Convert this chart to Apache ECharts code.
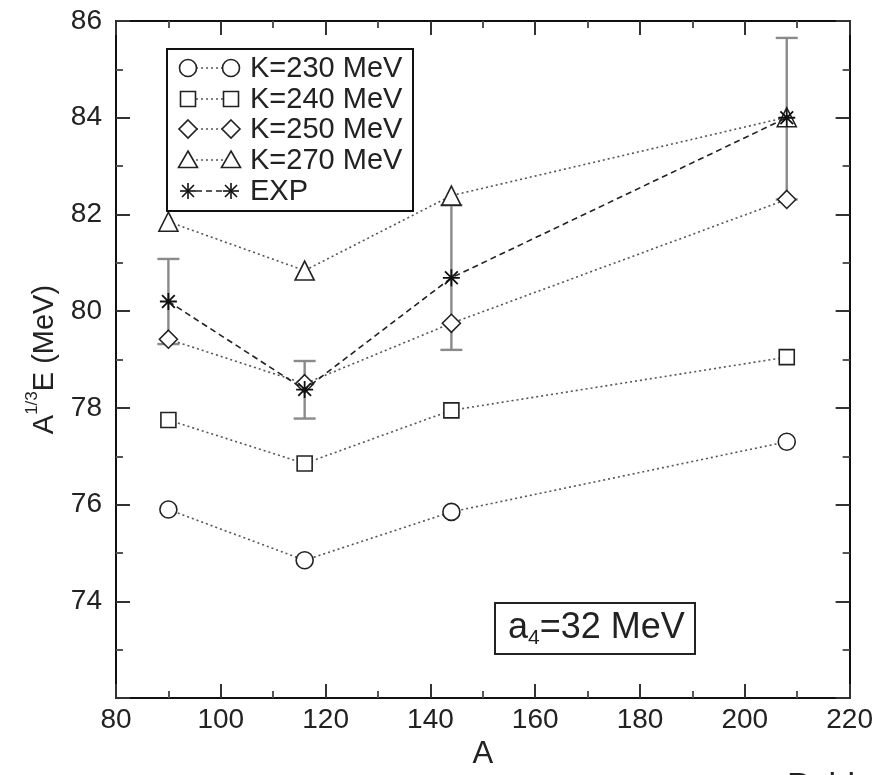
<!DOCTYPE html>
<html>
<head>
<meta charset="utf-8">
<script src="https://cdn.jsdelivr.net/npm/echarts@6/dist/echarts.min.js"></script>
<style>
html,body{margin:0;padding:0;background:#fff;}
#c{width:876px;height:775px;}
</style>
</head>
<body>
<div id="c"></div>
<script>
// ---- data ----
const massNumbers = [90, 116, 144, 208];
const k230 = [75.9, 74.85, 75.85, 77.3];
const k240 = [77.75, 76.85, 77.95, 79.05];
const k250 = [79.42, 78.5, 79.75, 82.31];
const k270 = [81.85, 80.84, 82.39, 84.01];
const expVal = [80.2, 78.38, 80.69, 84.0];
const expLow = [79.32, 77.78, 79.2, 82.31];
const expHigh = [81.08, 78.97, 82.19, 85.65];
const seriesNames = ['K=230 MeV', 'K=240 MeV', 'K=250 MeV', 'K=270 MeV', 'EXP'];
const xTicks = [80, 100, 120, 140, 160, 180, 200, 220];
const yTicks = [74, 76, 78, 80, 82, 84, 86];

const FONT = '"Liberation Sans", Arial, sans-serif';
const starPath = 'path://M-8,0L8,0M0,-8L0,8M-6,-6L6,6M-6,6L6,-6';
const diamondPath = 'path://M0,-10L10,0L0,10L-10,0Z';
const trianglePath = 'path://M0,-10L10,8L-10,8Z';

function pairs(ys) { return massNumbers.map((x, i) => [x, ys[i]]); }

const chart = echarts.init(document.getElementById('c'), null, {renderer: 'canvas'});

const axisCommon = {
  type: 'value',
  axisLine: {onZero: false, lineStyle: {color: '#111', width: 2}},
  axisTick: {inside: true, length: 14, lineStyle: {color: '#333', width: 2}},
  minorTick: {show: true, splitNumber: 2, length: 7, lineStyle: {color: '#555', width: 2}},
  splitLine: {show: false},
  minorSplitLine: {show: false}
};

const labelStyle = {fontSize: 28, color: '#222', fontFamily: FONT};

const markerStyle = {color: '#fff', borderColor: '#222', borderWidth: 1.6};
const dotLine = {color: '#555', width: 1.6, type: [2, 3]};

function kSeries(name, ys, symbol, size) {
  return {
    type: 'line', name: name, data: pairs(ys),
    symbol: symbol, symbolSize: size, showSymbol: true,
    lineStyle: dotLine, itemStyle: markerStyle, z: 3,
    emphasis: {disabled: true}, animation: false
  };
}

// legend drawn as graphic
const legendRows = [68, 99, 129, 160, 191];
const legendSymbols = ['circle', 'rect', 'diamond', 'triangle', 'star'];
const legendGraphics = [{
  type: 'rect', shape: {x: 167, y: 49, width: 246, height: 162},
  style: {fill: '#fff', stroke: '#111', lineWidth: 2}, z: 50
}];
function legendSym(kind, cx, cy) {
  if (kind === 'circle') return {type: 'circle', shape: {cx: cx, cy: cy, r: 8.5}, style: {fill: '#fff', stroke: '#222', lineWidth: 1.6}, z: 52};
  if (kind === 'rect') return {type: 'rect', shape: {x: cx - 7.5, y: cy - 7.5, width: 15, height: 15}, style: {fill: '#fff', stroke: '#222', lineWidth: 1.6}, z: 52};
  if (kind === 'diamond') return {type: 'polygon', shape: {points: [[cx, cy - 9], [cx + 9, cy], [cx, cy + 9], [cx - 9, cy]]}, style: {fill: '#fff', stroke: '#222', lineWidth: 1.6}, z: 52};
  if (kind === 'triangle') return {type: 'polygon', shape: {points: [[cx, cy - 9], [cx + 9.5, cy + 7.5], [cx - 9.5, cy + 7.5]]}, style: {fill: '#fff', stroke: '#222', lineWidth: 1.6}, z: 52};
  return {type: 'group', z: 52, children: [
    {type: 'line', shape: {x1: cx - 8, y1: cy, x2: cx + 8, y2: cy}, style: {stroke: '#111', lineWidth: 1.6}, z: 52},
    {type: 'line', shape: {x1: cx, y1: cy - 8, x2: cx, y2: cy + 8}, style: {stroke: '#111', lineWidth: 1.6}, z: 52},
    {type: 'line', shape: {x1: cx - 6, y1: cy - 6, x2: cx + 6, y2: cy + 6}, style: {stroke: '#111', lineWidth: 1.6}, z: 52},
    {type: 'line', shape: {x1: cx - 6, y1: cy + 6, x2: cx + 6, y2: cy - 6}, style: {stroke: '#111', lineWidth: 1.6}, z: 52}
  ]};
}
seriesNames.forEach((nm, i) => {
  const cy = legendRows[i];
  const isExp = legendSymbols[i] === 'star';
  legendGraphics.push({
    type: 'line', shape: {x1: 196, y1: cy, x2: 223, y2: cy},
    style: {stroke: isExp ? '#222' : '#555', lineWidth: 1.6, lineDash: isExp ? [6, 4] : [2, 3]}, z: 51
  });
  legendGraphics.push(legendSym(legendSymbols[i], 188, cy));
  legendGraphics.push(legendSym(legendSymbols[i], 231, cy));
  legendGraphics.push({
    type: 'text', x: 250, y: cy + 1, z: 52,
    style: {text: nm, font: '29px ' + FONT, fill: '#222', textVerticalAlign: 'middle'}
  });
});

const otherGraphics = [
  {type: 'rect', shape: {x: 495, y: 603, width: 200, height: 51},
   style: {fill: '#fff', stroke: '#222', lineWidth: 2}, z: 50},
  {type: 'text', x: 508, y: 628, z: 52,
   style: {
     text: '{a|a}{s|4}{a|=32 MeV}',
     textVerticalAlign: 'middle',
     rich: {
       a: {fontSize: 36, fontFamily: FONT, fill: '#222', lineHeight: 42},
       s: {fontSize: 21, fontFamily: FONT, fill: '#222', lineHeight: 42, verticalAlign: 'bottom'}
     }
   }},
  {type: 'text', x: 787, y: 770, z: 52,
   style: {text: 'Publ', font: '34px ' + FONT, fill: '#222', textVerticalAlign: 'top'}}
];

const option = {
  animation: false,
  backgroundColor: '#fff',
  grid: {left: 116, right: 26, top: 21, bottom: 71, containLabel: false},
  xAxis: [
    Object.assign({}, axisCommon, {
      min: xTicks[0], max: xTicks[xTicks.length - 1], interval: 20, position: 'bottom',
      axisLabel: Object.assign({margin: 8}, labelStyle),
      name: 'A', nameLocation: 'middle', nameGap: 38,
      nameTextStyle: {fontSize: 31, color: '#222', fontFamily: FONT}
    }),
    Object.assign({}, axisCommon, {
      min: xTicks[0], max: xTicks[xTicks.length - 1], interval: 20, position: 'top',
      axisLabel: {show: false}
    })
  ],
  yAxis: [
    Object.assign({}, axisCommon, {
      min: 72, max: yTicks[yTicks.length - 1], interval: 2, position: 'left',
      axisLabel: Object.assign({margin: 14, formatter: v => (yTicks.indexOf(v) >= 0 ? String(v) : '')}, labelStyle),
      name: '{a|A}{s|1/3}{a|E (MeV)}', nameLocation: 'middle', nameGap: 52,
      nameTextStyle: {
        rich: {
          a: {fontSize: 29, color: '#222', fontFamily: FONT, lineHeight: 36, verticalAlign: 'bottom'},
          s: {fontSize: 17, color: '#222', fontFamily: FONT, lineHeight: 36, verticalAlign: 'top'}
        }
      }
    }),
    Object.assign({}, axisCommon, {
      min: 72, max: yTicks[yTicks.length - 1], interval: 2, position: 'right',
      axisLabel: {show: false}
    })
  ],
  series: [
    {
      type: 'custom', name: 'EXP errors', z: 1,
      data: massNumbers.map((x, i) => [x, expLow[i], expHigh[i]]),
      renderItem: function (params, api) {
        const x = api.value(0);
        const p1 = api.coord([x, api.value(1)]);
        const p2 = api.coord([x, api.value(2)]);
        const w = 11;
        const st = {stroke: '#8a8a8a', lineWidth: 2.4};
        return {type: 'group', children: [
          {type: 'line', shape: {x1: p1[0], y1: p1[1], x2: p2[0], y2: p2[1]}, style: st},
          {type: 'line', shape: {x1: p1[0] - w, y1: p1[1], x2: p1[0] + w, y2: p1[1]}, style: st},
          {type: 'line', shape: {x1: p2[0] - w, y1: p2[1], x2: p2[0] + w, y2: p2[1]}, style: st}
        ]};
      },
      animation: false
    },
    kSeries(seriesNames[0], k230, 'circle', 17),
    kSeries(seriesNames[1], k240, 'rect', 15),
    kSeries(seriesNames[2], k250, diamondPath, 18),
    kSeries(seriesNames[3], k270, trianglePath, 19),
    {
      type: 'line', name: seriesNames[4], data: pairs(expVal),
      symbol: starPath, symbolSize: 17, showSymbol: true,
      lineStyle: {color: '#222', width: 1.6, type: [6, 4]},
      itemStyle: {color: 'transparent', borderColor: '#111', borderWidth: 1.8},
      z: 4, emphasis: {disabled: true}
    }
  ],
  graphic: legendGraphics.concat(otherGraphics)
};
chart.setOption(option);
</script>
</body>
</html>
